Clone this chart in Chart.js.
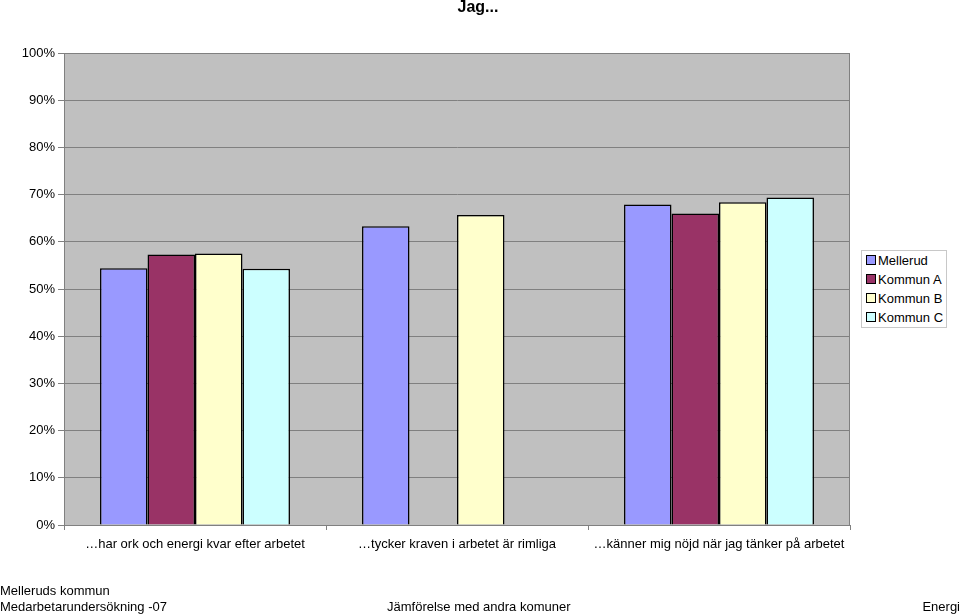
<!DOCTYPE html>
<html>
<head>
<meta charset="utf-8">
<script src="https://cdn.jsdelivr.net/npm/chart.js@4/dist/chart.umd.min.js"></script>
<style>
    body { margin: 0; background: #fff; font-family: Arial, "Liberation Sans", sans-serif; }
    #wrap { position: relative; width: 960px; height: 616px; overflow: hidden; }
    #grafico { position: absolute; left: 0; top: 0; }
    .txt { position: absolute; font-size: 13px; color: #000; white-space: nowrap; }
    #titulo { left: 0; width: 956px; top: -2px; text-align: center; font-weight: bold; font-size: 16px; }
    #legenda { position: absolute; left: 861px; top: 250px; width: 84px; height: 76px;
        background: #fff; border: 1px solid #c8c8c8; }
    .item { position: absolute; left: 4px; font-size: 13px; line-height: 15px; }
    .item span { display: inline-block; width: 8px; height: 8px; border: 1px solid #000;
        margin-right: 2px; vertical-align: 0px; }
</style>
</head>
<body>
<div id="wrap">
    <canvas id="grafico" width="960" height="616"></canvas>
    <div class="txt" id="titulo">Jag...</div>
    <div id="legenda"></div>
    <div class="txt" style="left:0; top:583px;">Melleruds kommun</div>
    <div class="txt" style="left:0; top:599px;">Medarbetarundersökning -07</div>
    <div class="txt" style="left:387px; top:599px;">Jämförelse med andra komuner</div>
    <div class="txt" style="right:0; top:599px;">Energi</div>
</div>
<script>
// Dados do gráfico
let categorias = [
    '\u2026har ork och energi kvar efter arbetet',
    '\u2026tycker kraven i arbetet är rimliga',
    '\u2026känner mig nöjd när jag tänker på arbetet'
]
let nomesSeries = ['Mellerud', 'Kommun A', 'Kommun B', 'Kommun C']
let mellerud = [54.4, 63.3, 67.9]
let kommunA = [57.3, null, 66.0]
let kommunB = [57.5, 65.7, 68.4]
let kommunC = [54.3, null, 69.4]
let coresSeries = ['#9999FF', '#993366', '#FFFFCC', '#CCFFFF']

let valores = [mellerud, kommunA, kommunB, kommunC]

// Fundo cinza e borda da área do gráfico
const fundoPlot = {
    id: 'fundoPlot',
    beforeDraw(chart) {
        const { ctx, chartArea: a } = chart
        ctx.save()
        ctx.fillStyle = '#C0C0C0'
        ctx.fillRect(a.left, a.top, a.right - a.left, a.bottom - a.top)
        ctx.strokeStyle = '#808080'
        ctx.lineWidth = 1
        ctx.strokeRect(a.left + 0.5, a.top + 0.5, a.right - a.left - 1, a.bottom - a.top)
        ctx.restore()
    }
}

let datasets = valores.map((v, i) => ({
    label: nomesSeries[i],
    data: v,
    backgroundColor: coresSeries[i],
    borderColor: '#000',
    borderWidth: 1.5,
    categoryPercentage: 0.725,
    barPercentage: 1.0
}))

new Chart(document.getElementById('grafico'), {
    type: 'bar',
    data: { labels: categorias, datasets: datasets },
    options: {
        responsive: false,
        animation: false,
        layout: { padding: { left: 0, top: 53, right: 110, bottom: 61 } },
        plugins: { legend: { display: false }, title: { display: false }, tooltip: { enabled: false } },
        scales: {
            x: {
                afterFit: (s) => { s.height = 30 },
                grid: { offset: true, drawOnChartArea: false, drawTicks: true, tickLength: 5, color: '#808080' },
                border: { color: '#808080' },
                ticks: { color: '#000', font: { family: 'Arial', size: 13 }, padding: 7, maxRotation: 0, autoSkip: false }
            },
            y: {
                min: 0,
                max: 100,
                afterFit: (s) => { s.width = 64 },
                grid: { color: '#808080', drawTicks: true, tickLength: 6 },
                border: { color: '#808080' },
                ticks: {
                    stepSize: 10,
                    color: '#000',
                    padding: 3,
                    font: { family: 'Arial', size: 13 },
                    callback: (v) => v + '%'
                }
            }
        }
    },
    plugins: [fundoPlot]
})

// Legenda em HTML
let legenda = document.getElementById('legenda')
nomesSeries.forEach((nome, i) => {
    legenda.innerHTML += `<div class="item" style="top:${2 + i * 19}px"><span style="background:${coresSeries[i]}"></span>${nome}</div>`
})
</script>
</body>
</html>
